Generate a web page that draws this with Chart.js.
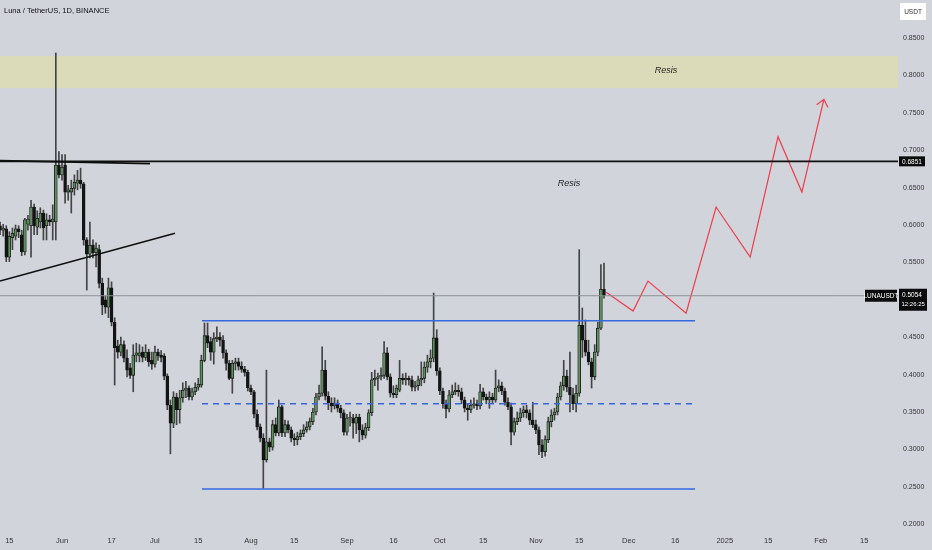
<!DOCTYPE html>
<html><head><meta charset="utf-8">
<script src="https://cdn.jsdelivr.net/npm/chart.js@4.4.1/dist/chart.umd.min.js"></script>
<style>html,body{margin:0;padding:0;background:#d1d4db;overflow:hidden}canvas{display:block}</style>
</head><body>
<div style="width:932px;height:550px"><canvas id="c" width="932" height="550"></canvas></div>
<script>
// Daily candles, first candle = 20 days before 2024-06-01 (day 0 = Jun 1)
const FIRST_DAY = -20;
const opens = [
0.599,0.593,0.595,0.557,0.583,0.585,0.595,0.587,0.564,0.601,
0.599,0.624,0.597,0.604,0.616,0.599,0.607,0.604,0.604,0.680,
0.667,0.680,0.644,0.644,0.649,0.656,0.660,0.655,0.580,0.561,
0.573,0.563,0.567,0.522,0.500,0.490,0.516,0.470,0.438,0.430,
0.440,0.422,0.409,0.399,0.426,0.425,0.430,0.423,0.430,0.419,
0.414,0.430,0.426,0.425,0.398,0.359,0.335,0.370,0.353,0.369,
0.379,0.382,0.370,0.377,0.383,0.386,0.419,0.452,0.444,0.430,
0.448,0.450,0.446,0.429,0.415,0.395,0.415,0.417,0.411,0.407,
0.403,0.382,0.377,0.347,0.330,0.315,0.286,0.310,0.303,0.333,
0.322,0.357,0.322,0.333,0.326,0.315,0.313,0.317,0.321,0.326,
0.330,0.337,0.350,0.370,0.375,0.406,0.371,0.362,0.358,0.362,
0.355,0.349,0.323,0.342,0.342,0.335,0.343,0.326,0.319,0.329,
0.349,0.393,0.395,0.397,0.399,0.429,0.397,0.375,0.373,0.379,
0.395,0.393,0.395,0.393,0.383,0.385,0.393,0.395,0.410,0.417,
0.422,0.449,0.405,0.378,0.361,0.354,0.373,0.377,0.379,0.377,
0.366,0.355,0.353,0.359,0.361,0.358,0.377,0.370,0.366,0.370,
0.366,0.382,0.385,0.378,0.363,0.357,0.323,0.337,0.342,0.349,
0.353,0.349,0.339,0.333,0.326,0.306,0.297,0.313,0.337,0.346,
0.350,0.370,0.385,0.398,0.383,0.373,0.361,0.375,0.466,0.446,
0.430,0.417,0.397,0.430,0.462,0.514];
const highs = [
0.604,0.601,0.599,0.591,0.596,0.600,0.599,0.593,0.609,0.613,
0.633,0.628,0.619,0.623,0.620,0.615,0.613,0.627,0.830,0.698,
0.694,0.694,0.653,0.660,0.667,0.673,0.676,0.657,0.583,0.604,
0.580,0.576,0.573,0.529,0.505,0.529,0.524,0.476,0.446,0.450,
0.445,0.433,0.415,0.440,0.442,0.440,0.437,0.440,0.434,0.430,
0.438,0.434,0.432,0.428,0.401,0.366,0.377,0.375,0.379,0.389,
0.391,0.385,0.382,0.389,0.395,0.426,0.469,0.469,0.450,0.456,
0.464,0.456,0.452,0.433,0.419,0.419,0.422,0.422,0.417,0.411,
0.406,0.386,0.379,0.353,0.334,0.321,0.406,0.315,0.339,0.342,
0.366,0.359,0.339,0.338,0.330,0.321,0.323,0.326,0.333,0.337,
0.342,0.355,0.375,0.386,0.437,0.419,0.377,0.369,0.369,0.366,
0.359,0.353,0.347,0.350,0.347,0.347,0.347,0.333,0.335,0.353,
0.403,0.406,0.402,0.409,0.444,0.436,0.401,0.385,0.386,0.419,
0.401,0.402,0.398,0.398,0.391,0.398,0.417,0.417,0.426,0.433,
0.509,0.460,0.409,0.382,0.366,0.379,0.386,0.389,0.386,0.382,
0.370,0.361,0.366,0.369,0.366,0.387,0.382,0.374,0.377,0.375,
0.406,0.393,0.390,0.382,0.369,0.362,0.342,0.350,0.355,0.358,
0.359,0.353,0.363,0.339,0.330,0.313,0.318,0.343,0.353,0.355,
0.375,0.390,0.419,0.406,0.430,0.382,0.386,0.567,0.489,0.473,
0.446,0.422,0.440,0.470,0.547,0.549];
const lows = [
0.587,0.585,0.551,0.551,0.567,0.580,0.583,0.559,0.560,0.593,
0.557,0.587,0.587,0.596,0.580,0.580,0.599,0.580,0.580,0.663,
0.660,0.629,0.633,0.616,0.640,0.647,0.649,0.573,0.513,0.556,
0.556,0.544,0.516,0.480,0.482,0.476,0.465,0.386,0.422,0.425,
0.417,0.397,0.395,0.377,0.417,0.417,0.417,0.419,0.411,0.407,
0.410,0.419,0.417,0.393,0.353,0.294,0.329,0.333,0.335,0.363,
0.369,0.366,0.366,0.373,0.379,0.383,0.417,0.436,0.419,0.414,
0.444,0.438,0.422,0.406,0.393,0.375,0.406,0.406,0.403,0.398,
0.378,0.373,0.342,0.326,0.310,0.248,0.283,0.297,0.299,0.318,
0.318,0.317,0.317,0.322,0.310,0.305,0.306,0.313,0.317,0.323,
0.326,0.333,0.346,0.366,0.371,0.366,0.353,0.350,0.354,0.350,
0.342,0.319,0.319,0.331,0.315,0.321,0.310,0.313,0.315,0.325,
0.345,0.385,0.379,0.393,0.395,0.393,0.370,0.369,0.369,0.377,
0.387,0.386,0.386,0.378,0.378,0.379,0.385,0.389,0.403,0.409,
0.417,0.399,0.373,0.355,0.342,0.350,0.369,0.373,0.371,0.361,
0.350,0.339,0.349,0.355,0.353,0.354,0.366,0.361,0.355,0.362,
0.363,0.377,0.373,0.359,0.353,0.306,0.319,0.333,0.337,0.343,
0.342,0.333,0.329,0.321,0.293,0.289,0.291,0.309,0.330,0.339,
0.346,0.366,0.379,0.377,0.350,0.353,0.350,0.371,0.423,0.425,
0.413,0.382,0.393,0.425,0.460,0.502];
const closes = [
0.593,0.596,0.557,0.585,0.589,0.595,0.591,0.564,0.607,0.608,
0.624,0.599,0.609,0.616,0.596,0.607,0.604,0.608,0.680,0.667,
0.677,0.644,0.647,0.649,0.657,0.660,0.655,0.580,0.561,0.573,
0.563,0.569,0.522,0.493,0.490,0.516,0.470,0.436,0.430,0.440,
0.422,0.406,0.399,0.426,0.429,0.429,0.423,0.430,0.417,0.414,
0.430,0.425,0.423,0.398,0.359,0.335,0.370,0.353,0.369,0.379,
0.382,0.370,0.377,0.383,0.387,0.419,0.452,0.442,0.430,0.448,
0.450,0.446,0.429,0.415,0.395,0.415,0.417,0.411,0.407,0.403,
0.382,0.377,0.347,0.330,0.315,0.286,0.310,0.303,0.333,0.322,
0.357,0.322,0.333,0.326,0.315,0.313,0.317,0.321,0.326,0.330,
0.337,0.350,0.370,0.375,0.406,0.371,0.362,0.358,0.362,0.355,
0.349,0.323,0.342,0.343,0.335,0.343,0.326,0.319,0.329,0.349,
0.393,0.395,0.397,0.399,0.429,0.397,0.375,0.373,0.382,0.395,
0.393,0.395,0.393,0.383,0.385,0.393,0.395,0.410,0.417,0.422,
0.449,0.405,0.378,0.361,0.354,0.373,0.377,0.379,0.377,0.366,
0.355,0.353,0.359,0.361,0.358,0.377,0.370,0.366,0.370,0.366,
0.382,0.385,0.378,0.363,0.357,0.323,0.337,0.342,0.349,0.353,
0.349,0.339,0.333,0.326,0.306,0.297,0.313,0.337,0.346,0.350,
0.370,0.385,0.398,0.383,0.373,0.361,0.375,0.466,0.446,0.430,
0.417,0.397,0.430,0.462,0.514,0.5054];

const yTicks = [0.20,0.25,0.30,0.35,0.40,0.45,0.50,0.55,0.60,0.65,0.70,0.75,0.80,0.85];
const xTickDays   = [-17,0,16,30,44,61,75,92,107,122,136,153,167,183,198,214,228,245,259];
const xTickLabels = ['15','Jun','17','Jul','15','Aug','15','Sep','16','Oct','15','Nov','15','Dec','16','2025','15','Feb','15'];

const X_MIN = -20.02, X_MAX = 269.93, Y_MIN = 0.1922, Y_MAX = 0.9008;

const resistLevel = 0.6851;
const lastPrice = 0.5054;
const lastTime = '12:26:25';
const zoneLow = 0.783, zoneHigh = 0.826;
const rangeStartDay = 45.2, rangeEndDay = 204.4;
const rangeTop = 0.472, rangeMid = 0.361, rangeBottom = 0.247;
const topTrendDays = [-20.02, 28.4], topTrendValues = [0.686, 0.682];
const riseTrendDays = [-20.02, 36.5], riseTrendValues = [0.525, 0.589];
const pathDays   = [175.7, 184.4, 189.2, 201.5, 211.2, 222.2, 231.2, 238.9, 246.0];
const pathValues = [0.510, 0.485, 0.525, 0.482, 0.624, 0.557, 0.718, 0.644, 0.768];
const noteDays = [195.0, 163.7], noteValues = [0.806, 0.655], noteTexts = ['Resis', 'Resis'];
const title = 'Luna / TetherUS, 1D, BINANCE';
const symbol = 'LUNAUSDT';
const currency = 'USDT';

const FONT = '"Liberation Sans","Roboto",sans-serif';
const UP = '#5f8f5f', DOWN = '#141414';

const wickData = lows.map((l, i) => ({x: FIRST_DAY + i, y: [l, highs[i]]}));
const bodyData = opens.map((o, i) => ({x: FIRST_DAY + i, y: [o, closes[i]]}));
const bodyColors = opens.map((o, i) => closes[i] >= o ? UP : DOWN);

function seg(xs, ys) { return xs.map((x, i) => ({x, y: ys[i]})); }
function lineDs(data, color, width, dash) {
  return {type: 'line', data, borderColor: color, borderWidth: width, borderDash: dash || [],
          pointRadius: 0, tension: 0, fill: false, order: 1};
}
function noPad(s) { s.paddingTop = 0; s.paddingBottom = 0; s.paddingLeft = 0; s.paddingRight = 0; }

const overlay = {
  id: 'overlay',
  beforeDraw(chart) {
    const ctx = chart.ctx;
    ctx.save();
    ctx.fillStyle = '#d1d4db';
    ctx.fillRect(0, 0, chart.width, chart.height);
    ctx.restore();
  },
  beforeDatasetsDraw(chart) {
    const {ctx, chartArea: a, scales: {y}} = chart;
    ctx.save();
    ctx.fillStyle = '#dcdbb9';
    const y1 = y.getPixelForValue(zoneHigh), y2 = y.getPixelForValue(zoneLow);
    ctx.fillRect(a.left, y1, a.right - a.left, y2 - y1);
    ctx.restore();
  },
  afterDatasetsDraw(chart) {
    const {ctx, scales: {x, y}} = chart;
    ctx.save();
    const n = pathDays.length;
    const tx = x.getPixelForValue(pathDays[n - 1]), ty = y.getPixelForValue(pathValues[n - 1]);
    const px = x.getPixelForValue(pathDays[n - 2]), py = y.getPixelForValue(pathValues[n - 2]);
    const ang = Math.atan2(py - ty, px - tx);
    ctx.strokeStyle = '#ef3b4a'; ctx.lineWidth = 1.2;
    ctx.beginPath();
    ctx.moveTo(tx + 9 * Math.cos(ang + 0.7), ty + 9 * Math.sin(ang + 0.7));
    ctx.lineTo(tx, ty);
    ctx.lineTo(tx + 9 * Math.cos(ang - 0.7), ty + 9 * Math.sin(ang - 0.7));
    ctx.stroke();
    ctx.fillStyle = '#1e1e1e';
    ctx.font = 'italic 9px ' + FONT;
    ctx.textAlign = 'center'; ctx.textBaseline = 'middle';
    noteTexts.forEach((t, i) => ctx.fillText(t, x.getPixelForValue(noteDays[i]), y.getPixelForValue(noteValues[i])));
    ctx.restore();
  },
  afterDraw(chart) {
    const {ctx, chartArea: a, scales: {y}} = chart;
    ctx.save();
    ctx.font = '7.5px ' + FONT;
    ctx.fillStyle = '#111';
    ctx.textAlign = 'left'; ctx.textBaseline = 'middle';
    ctx.fillText(title, 4, 11);
    ctx.fillStyle = '#ffffff';
    ctx.fillRect(900, 3, 26, 17);
    ctx.fillStyle = '#333';
    ctx.font = '6.5px ' + FONT;
    ctx.textAlign = 'center';
    ctx.fillText(currency, 913, 12);
    const yr = y.getPixelForValue(resistLevel);
    ctx.fillStyle = '#0b0b0b';
    ctx.fillRect(899, yr - 5, 26, 10);
    ctx.fillStyle = '#fff';
    ctx.font = '6.5px ' + FONT;
    ctx.textAlign = 'left';
    ctx.fillText(resistLevel.toFixed(4), 902, yr + 0.5);
    const yp = y.getPixelForValue(lastPrice);
    ctx.fillStyle = '#0b0b0b';
    ctx.fillRect(899, yp - 7, 28, 22);
    ctx.fillRect(a.right - 33, yp - 6, 32, 12);
    ctx.fillStyle = '#fff';
    ctx.fillText(lastPrice.toFixed(4), 902, yp - 1);
    ctx.font = '6px ' + FONT;
    ctx.fillText(lastTime, 901.5, yp + 9);
    ctx.font = '6.5px ' + FONT;
    ctx.textAlign = 'center';
    ctx.fillText(symbol, a.right - 17, yp + 0.5);
    ctx.restore();
  }
};

new Chart(document.getElementById('c'), {
  type: 'bar',
  data: {
    datasets: [
      {type: 'bar', data: wickData, backgroundColor: '#444', barThickness: 1, grouped: false, order: 3},
      {type: 'bar', data: bodyData, backgroundColor: bodyColors, borderColor: '#151515', borderWidth: 0.8,
       borderSkipped: false, barThickness: 2.9, minBarLength: 1, grouped: false, order: 2},
      lineDs(seg([X_MIN, X_MAX], [lastPrice, lastPrice]), '#8d8f94', 1),
      lineDs(seg([X_MIN, X_MAX], [resistLevel, resistLevel]), '#0f0f0f', 1.6),
      lineDs(seg(topTrendDays, topTrendValues), '#0f0f0f', 1.6),
      lineDs(seg(riseTrendDays, riseTrendValues), '#0f0f0f', 1.6),
      lineDs(seg([rangeStartDay, rangeEndDay], [rangeTop, rangeTop]), '#3568e0', 1.6),
      lineDs(seg([rangeStartDay, rangeEndDay], [rangeMid, rangeMid]), '#3568e0', 1.4, [6, 5]),
      lineDs(seg([rangeStartDay, rangeEndDay], [rangeBottom, rangeBottom]), '#3568e0', 1.6),
      lineDs(seg(pathDays, pathValues), '#ef3b4a', 1.2)
    ]
  },
  options: {
    responsive: false, animation: false, devicePixelRatio: 1,
    layout: {padding: 0},
    plugins: {legend: {display: false}, tooltip: {enabled: false}},
    scales: {
      x: {
        type: 'linear', min: X_MIN, max: X_MAX, offset: false,
        grid: {display: false, drawTicks: false}, border: {display: false},
        afterBuildTicks: s => { s.ticks = xTickDays.map(v => ({value: v})); },
        afterFit: s => { s.height = 20; noPad(s); },
        ticks: {autoSkip: false, maxRotation: 0, padding: 6, color: '#333',
                font: {family: FONT, size: 7.5},
                callback: v => { const k = xTickDays.indexOf(v); return k >= 0 ? xTickLabels[k] : ''; }}
      },
      y: {
        type: 'linear', position: 'right', min: Y_MIN, max: Y_MAX,
        grid: {display: false, drawTicks: false}, border: {display: false},
        afterBuildTicks: s => { s.ticks = yTicks.map(v => ({value: v})); },
        afterFit: s => { s.width = 34; noPad(s); },
        ticks: {padding: 5, color: '#333', font: {family: FONT, size: 7},
                callback: v => Number(v).toFixed(4)}
      }
    }
  },
  plugins: [overlay]
});
</script>
</body></html>
